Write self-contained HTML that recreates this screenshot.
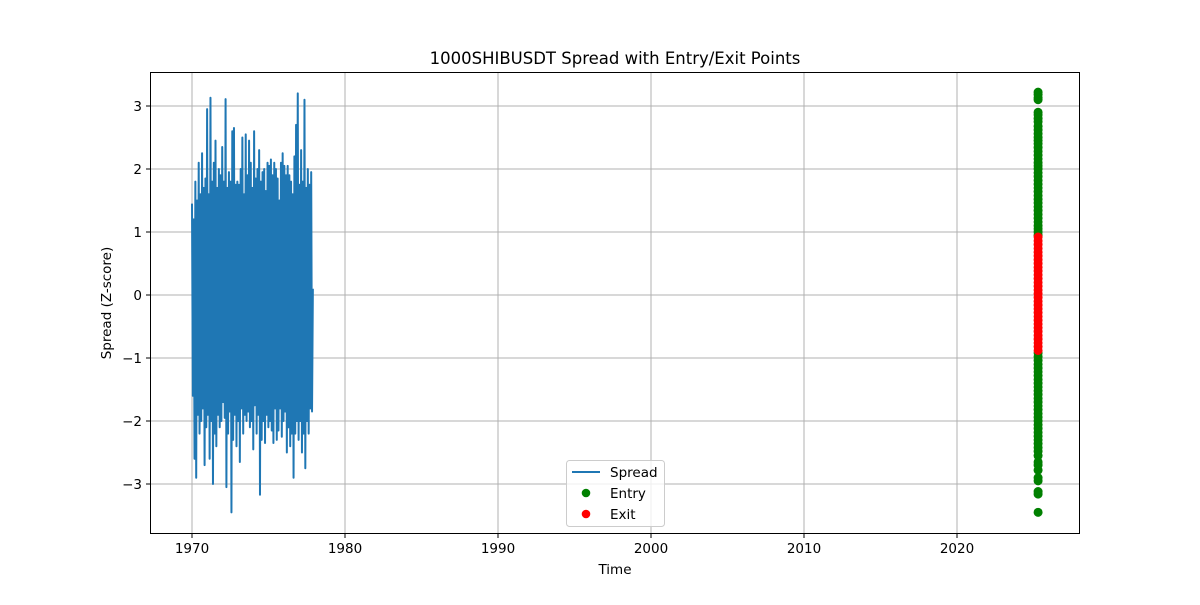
<!DOCTYPE html>
<html><head><meta charset="utf-8"><style>
body{margin:0;background:#fff;}
svg text{font-family:"DejaVu Sans","Liberation Sans",sans-serif;fill:#000;}
</style></head><body>
<svg id="chart" width="1200" height="600" viewBox="0 0 1200 600">
<rect width="1200" height="600" fill="#fff"/>
<g id="grid"></g>
<g id="marks"></g>
<rect x="150.5" y="72.5" width="929" height="461" fill="none" stroke="#000" stroke-width="1"/>
<g id="axes"></g>
<text x="615" y="64" font-size="16.5" text-anchor="middle">1000SHIBUSDT Spread with Entry/Exit Points</text>
<text x="615" y="574" font-size="13.5" text-anchor="middle">Time</text>
<text x="0" y="0" font-size="13.5" text-anchor="middle" transform="translate(111,303) rotate(-90)">Spread (Z-score)</text>
<g>
<rect x="566.5" y="460.5" width="98" height="66" rx="3" fill="#fff" fill-opacity="0.8" stroke="#ccc"/>
<g><line x1="572" y1="472" x2="600" y2="472" stroke="#1f77b4" stroke-width="2"/><text x="610" y="477" font-size="13.5">Spread</text></g>
<g><circle cx="586" cy="493" r="4.3" fill="green"/><text x="610" y="498" font-size="13.5">Entry</text></g>
<g><circle cx="586" cy="514" r="4.3" fill="red"/><text x="610" y="519" font-size="13.5">Exit</text></g>
</g>
</svg>
<script>
const xTicks=[1970,1980,1990,2000,2010,2020];
const yTicks=[-3,-2,-1,0,1,2,3];
const spreadStart=1970.0, spreadEnd=1977.9;
const spreadValues=[1.45,-1.6,1.2,-2.6,1.8,-2.9,1.5,-1.9,2.1,-2.2,1.6,-2.0,2.25,-1.8,1.7,-2.7,1.85,-2.1,2.95,-1.9,1.6,-2.6,3.13,-2.0,1.8,-3.0,2.1,-2.2,2.45,-2.4,1.7,-1.9,2.0,-2.1,1.9,-2.0,2.35,-1.7,1.8,-1.95,3.11,-3.05,1.7,-2.2,1.95,-1.85,1.8,-3.45,2.6,-2.3,2.65,-1.9,1.75,-2.4,1.8,-2.0,1.75,-2.65,2.0,-1.8,2.5,-2.2,1.6,-1.9,2.55,-2.0,1.9,-1.85,2.45,-2.1,2.1,-2.0,1.7,-2.45,2.6,-1.75,1.85,-2.2,2.0,-1.9,2.3,-3.17,1.8,-2.3,1.95,-2.0,2.0,-2.35,1.65,-1.9,2.1,-2.1,2.05,-2.0,2.15,-2.15,1.9,-2.35,2.1,-1.8,2.0,-2.3,1.85,-2.15,1.5,-1.8,2.1,-2.25,2.25,-2.0,2.05,-1.85,1.9,-2.5,2.05,-2.1,1.9,-2.4,1.8,-2.2,1.6,-2.9,2.2,-2.2,2.7,-2.0,3.2,-2.3,1.75,-2.0,2.3,-2.5,1.8,-2.2,3.1,-2.75,1.7,-2.0,2.0,-2.2,1.75,-1.8,1.95,-1.85,0.1];
const entryX=2025.3;
const entryValues=[3.22,3.18,3.13,3.1,2.9,2.86,2.8,2.75,2.68,2.62,2.56,2.5,2.45,2.4,2.34,2.28,2.22,2.16,2.1,2.05,2.0,1.94,1.88,1.82,1.76,1.7,1.64,1.58,1.52,1.46,1.4,1.34,1.28,1.22,1.16,1.1,1.05,1.0,0.95,-0.92,-0.98,-1.04,-1.1,-1.16,-1.22,-1.28,-1.34,-1.4,-1.46,-1.52,-1.58,-1.64,-1.7,-1.76,-1.82,-1.88,-1.94,-2.0,-2.06,-2.12,-2.18,-2.24,-2.3,-2.36,-2.42,-2.48,-2.55,-2.65,-2.7,-2.78,-2.9,-2.95,-3.12,-3.16,-3.45];
const exitValues=[0.92,0.86,0.8,0.74,0.68,0.62,0.56,0.5,0.44,0.38,0.32,0.26,0.2,0.14,0.08,0.02,-0.04,-0.1,-0.16,-0.22,-0.28,-0.34,-0.4,-0.46,-0.52,-0.58,-0.64,-0.7,-0.76,-0.82,-0.88];
const X=v=>192+(v-1970)*15.3;
const Y=v=>295-v*63;
const NS='http://www.w3.org/2000/svg';
const grid=document.getElementById('grid'),axes=document.getElementById('axes'),marks=document.getElementById('marks');
function mk(t,a,p){const e=document.createElementNS(NS,t);for(const k in a)e.setAttribute(k,a[k]);p.appendChild(e);return e;}
xTicks.forEach(t=>{const x=X(t);
 const g=mk('line',{x1:x,x2:x,y1:72,y2:534,stroke:'#b0b0b0','stroke-width':1},grid);
 
 
 mk('line',{x1:x,x2:x,y1:534,y2:538,stroke:'#000'},axes);
 const tx=mk('text',{x:x,y:553,'font-size':13.5,'text-anchor':'middle'},axes);tx.textContent=t;
 
 
});
yTicks.forEach(t=>{const y=Y(t);
 const g=mk('line',{x1:150,x2:1080,y1:y,y2:y,stroke:'#b0b0b0','stroke-width':1},grid);
 
 
 mk('line',{x1:146,x2:150,y1:y,y2:y,stroke:'#000'},axes);
 const tx=mk('text',{x:142,y:y+5,'font-size':13.5,'text-anchor':'end'},axes);tx.textContent=(t<0?'\u2212'+(-t):t);
 
 
});
const n=spreadValues.length;
const pts=spreadValues.map((v,i)=>X(spreadStart+(spreadEnd-spreadStart)*i/(n-1)).toFixed(2)+','+Y(v).toFixed(2)).join(' ');
const pl=mk('polyline',{points:pts,fill:'none',stroke:'#1f77b4','stroke-width':2,'stroke-linejoin':'round'},marks);


entryValues.forEach(v=>{const c=mk('circle',{cx:X(entryX),cy:Y(v),r:4.5,fill:'green'},marks);
 
 });
exitValues.forEach(v=>{const c=mk('circle',{cx:X(entryX),cy:Y(v),r:4.5,fill:'red'},marks);
 
 });
</script>
</body></html>
